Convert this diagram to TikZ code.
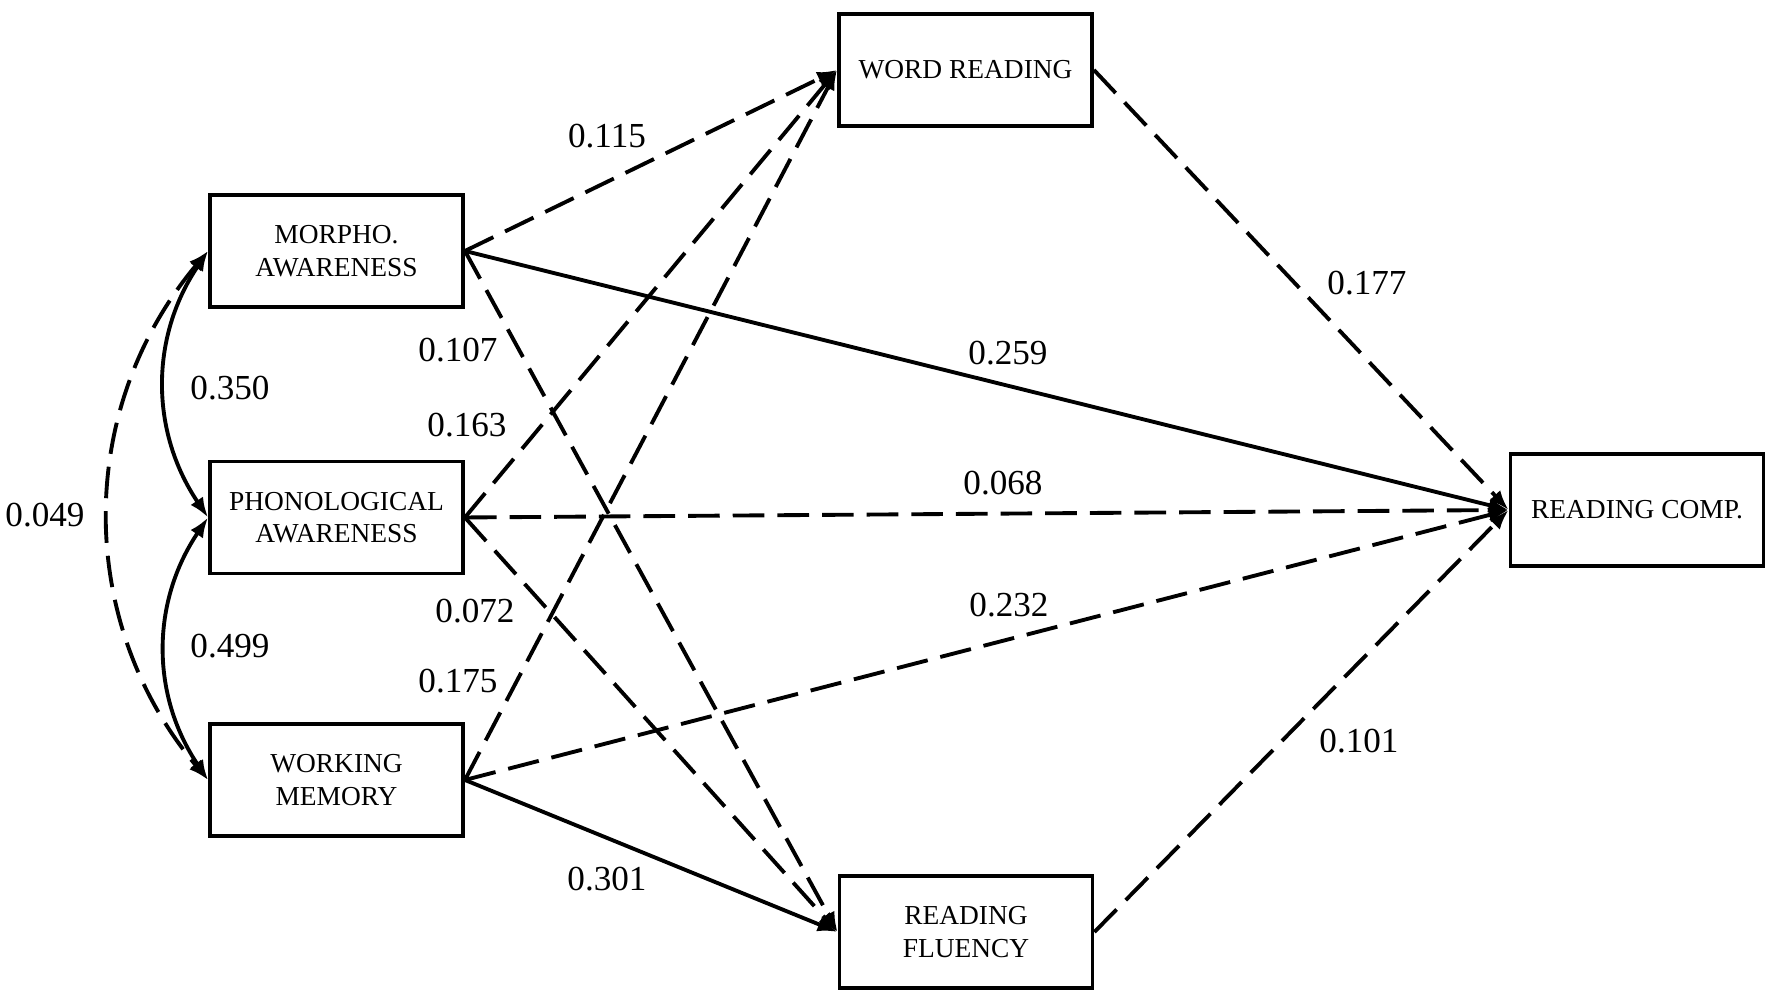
\documentclass[tikz,border=0pt]{standalone}
\usepackage{fontspec}
\setmainfont{Liberation Serif}
\usetikzlibrary{arrows.meta}

\begin{document}
\begin{tikzpicture}[
	box/.style={draw,line width=1.1pt,minimum width=2.53cm,minimum height=1.12cm,align=center,inner sep=1pt,font=\fontsize{7.8}{9.2}\selectfont},
	eff/.style={line width=1.1pt,-{Latex[length=2mm,width=1.5mm]}},
	both/.style={line width=1.1pt,{Latex[length=2mm,width=1.5mm]}-{Latex[length=2mm,width=1.5mm]}},
	broken/.style={dash pattern=on 9pt off 3.7pt},
	coef/.style={font=\fontsize{10}{12}\selectfont,inner sep=0pt}
	]
						\useasboundingbox (0,0) rectangle (17.72,10);
						\node[box] (morph) at (3.365,7.49) {MORPHO.\\AWARENESS};
						\node[box] (phon) at (3.365,4.825) {PHONOLOGICAL\\AWARENESS};
						\node[box] (wm) at (3.365,2.20) {WORKING\\MEMORY};
						\node[box] (word) at (9.655,9.30) {WORD READING};
						\node[box] (flu) at (9.66,0.68) {READING\\FLUENCY};
						\node[box] (comp) at (16.37,4.90) {READING COMP.};
						\draw[eff,broken] (morph.east)--(word.west);
						\draw[eff] (morph.east)--(comp.west);
						\draw[eff,broken] (morph.east)--(flu.west);
						\draw[eff,broken] (phon.east)--(word.west);
						\draw[eff,broken] (phon.east)--(comp.west);
						\draw[eff,broken] (phon.east)--(flu.west);
						\draw[eff,broken] (wm.east)--(word.west);
						\draw[eff,broken] (wm.east)--(comp.west);
						\draw[eff] (wm.east)--(flu.west);
						\draw[eff,broken] (word.east)--(comp.west);
						\draw[eff,broken] (flu.east)--(comp.west);
						\draw[both] (morph.west) to[bend right=34] (phon.west);
						\draw[both] (phon.west) to[bend right=34] (wm.west);
						\draw[both,broken] (morph.west) to[bend right=40] (wm.west);
						\node[coef] (c115) at (6.07,8.64) {0.115};
						\node[coef] (c177) at (13.67,7.17) {0.177};
						\node[coef] (c259) at (10.08,6.47) {0.259};
						\node[coef] (c107) at (4.58,6.50) {0.107};
						\node[coef] (c350) at (2.30,6.12) {0.350};
						\node[coef] (c163) at (4.67,5.75) {0.163};
						\node[coef] (c068) at (10.03,5.17) {0.068};
						\node[coef] (c049) at (0.45,4.85) {0.049};
						\node[coef] (c072) at (4.75,3.89) {0.072};
						\node[coef] (c232) at (10.09,3.95) {0.232};
						\node[coef] (c499) at (2.30,3.54) {0.499};
						\node[coef] (c175) at (4.58,3.19) {0.175};
						\node[coef] (c101) at (13.59,2.59) {0.101};
						\node[coef] (c301) at (6.07,1.21) {0.301};
					\end{tikzpicture}
\end{document}
